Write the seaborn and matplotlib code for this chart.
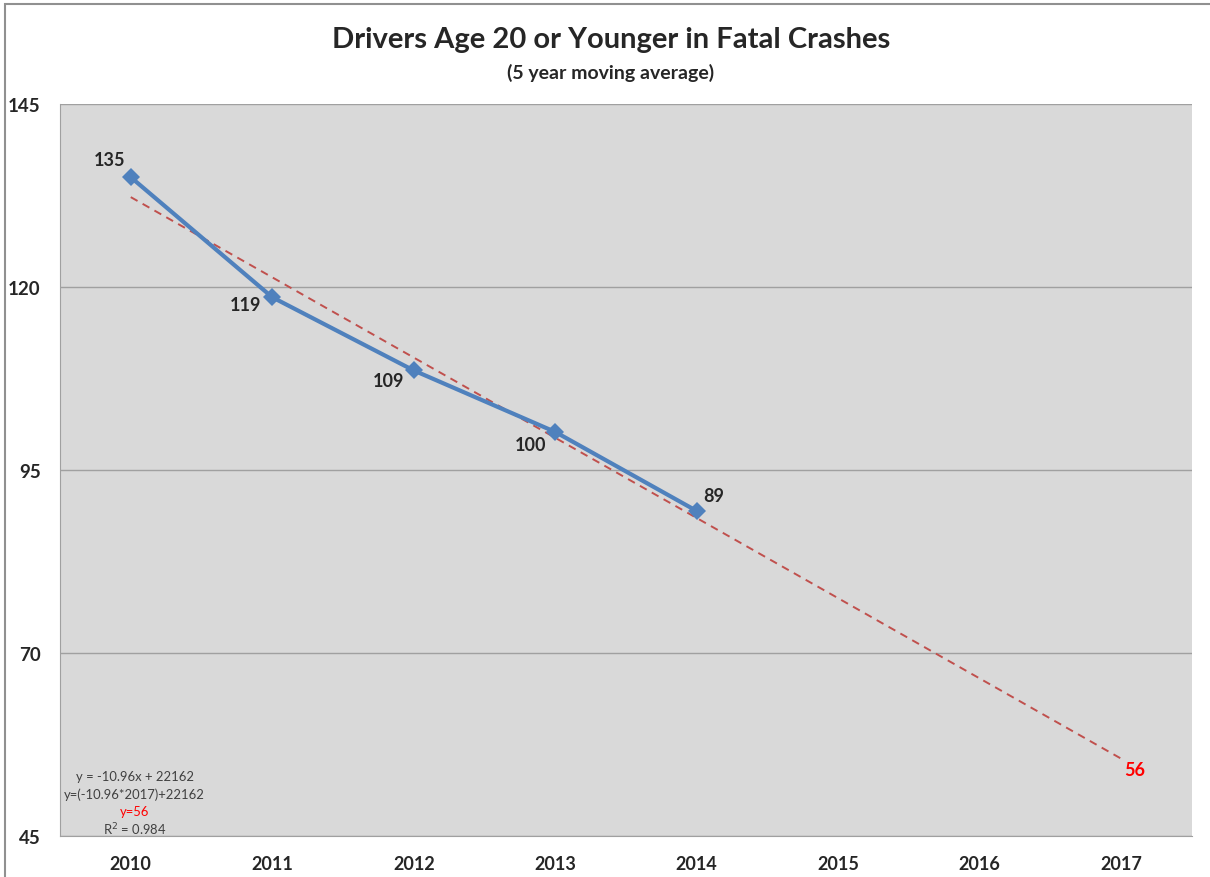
import numpy as np
import pandas as pd
import seaborn as sns
import matplotlib.pyplot as plt
from matplotlib.patches import Rectangle
plt.switch_backend('agg')

years = [2010, 2011, 2012, 2013, 2014]
drivers = [135.0, 118.6, 108.6, 100.2, 89.4]
all_years = [2010, 2011, 2012, 2013, 2014, 2015, 2016, 2017]
yticks = [45, 70, 95, 120, 145]
eq_lines = ['y = -10.96x + 22162', 'y=(-10.96*2017)+22162', 'y=56', 'R$^2$ = 0.984']

sns.set_style('white')
plt.rcParams['font.family'] = ['Lato', 'DejaVu Sans']

df = pd.DataFrame({'Year': years, 'Drivers': drivers})

# linear trend, extended out to 2017
slope, icpt = np.polyfit(years, drivers, 1)
df_trend = pd.DataFrame({'Year': [years[0], all_years[-1]]})
df_trend['Trend'] = slope * df_trend['Year'] + icpt

fig = plt.figure(figsize=(12.1, 8.78), dpi=100)
ax = fig.add_axes([0.0496, 0.0467, 0.9355, 0.8337])
ax.set_facecolor('#d9d9d9')

sns.lineplot(data=df_trend, x='Year', y='Trend', ax=ax, color='#c0504d',
             linestyle=(0, (4, 3)), linewidth=1.4)
sns.lineplot(data=df, x='Year', y='Drivers', ax=ax, color='#4f81bd',
             linewidth=3, marker='D', markersize=9, markeredgewidth=0)

ax.set_xlim(2009.5, 2017.5)
ax.set_ylim(45, 145)
ax.set_yticks(yticks)
ax.set_xticks(all_years)
ax.set_xticks([y - 0.5 for y in all_years] + [2017.5], minor=True)
ax.tick_params(axis='x', which='major', length=0, pad=14, labelsize=13)
ax.tick_params(axis='x', which='minor', length=7, color='#a0a0a0', direction='out')
ax.tick_params(axis='y', length=6, color='#a0a0a0', direction='out', labelsize=13.5, pad=8)
for lbl in ax.get_xticklabels() + ax.get_yticklabels():
    lbl.set_fontweight('bold')
ax.set_xlabel('')
ax.set_ylabel('')
ax.grid(axis='y', color='#a0a0a0', linewidth=1)
ax.set_axisbelow(True)
for side in ['top', 'right']:
    ax.spines[side].set_visible(False)
for side in ['left', 'bottom']:
    ax.spines[side].set_color('#a0a0a0')

# data labels
offsets = [(-15, 13), (-19, -5), (-18, -7), (-18, -9), (12, 11)]
for (yr, v), off in zip(zip(years, drivers), offsets):
    ax.annotate('%d' % round(v), (yr, v), xytext=off, textcoords='offset points',
                ha='center', va='center', fontsize=13, fontweight='bold')
ax.annotate('%d' % round(df_trend['Trend'].iloc[-1]), (all_years[-1], df_trend['Trend'].iloc[-1]),
            xytext=(10, -8), textcoords='offset points', ha='center', va='center',
            fontsize=13, fontweight='bold', color='#ff0000')

# trendline equation box
for i, t in enumerate(eq_lines):
    ax.text(0.066, 0.082 - i * 0.0238, t, transform=ax.transAxes, ha='center', va='center',
            fontsize=9.4, color='#ff0000' if t == 'y=56' else '#404040')

fig.text(0.505, 0.955, 'Drivers Age 20 or Younger in Fatal Crashes', ha='center', va='center',
         fontsize=21, fontweight='bold')
fig.text(0.505, 0.917, '(5 year moving average)', ha='center', va='center',
         fontsize=14, fontweight='bold')

fig.patches.append(Rectangle((5 / 1210, -0.1), 1.2, 0.1 + 873 / 878, transform=fig.transFigure,
                             fill=False, edgecolor='#909090', linewidth=1.5))

fig.savefig('out.png', dpi=100)
